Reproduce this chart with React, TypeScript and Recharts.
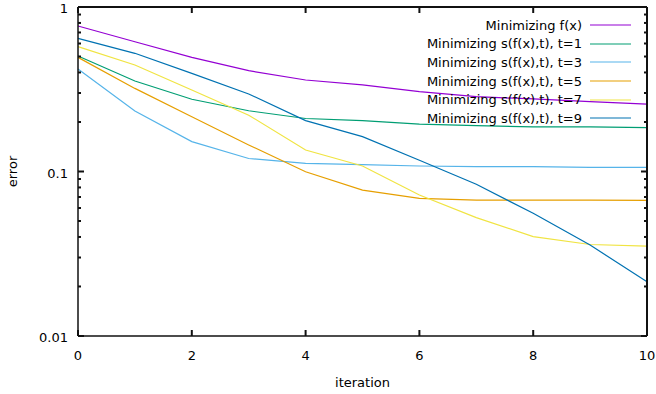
import React from 'react';
import { LineChart, Line, XAxis, YAxis, Legend } from 'recharts';

const iterations = [0, 1, 2, 3, 4, 5, 6, 7, 8, 9, 10];
const minF = [0.766, 0.615, 0.494, 0.41, 0.36, 0.336, 0.306, 0.285, 0.276, 0.266, 0.257];
const minT1 = [0.504, 0.355, 0.275, 0.234, 0.21, 0.204, 0.194, 0.19, 0.187, 0.187, 0.185];
const minT3 = [0.42, 0.233, 0.152, 0.12, 0.112, 0.11, 0.108, 0.107, 0.107, 0.106, 0.106];
const minT5 = [0.494, 0.32, 0.215, 0.145, 0.0997, 0.077, 0.0687, 0.067, 0.067, 0.067, 0.0668];
const minT7 = [0.574, 0.444, 0.313, 0.22, 0.135, 0.108, 0.072, 0.0524, 0.0402, 0.036, 0.0352];
const minT9 = [0.645, 0.523, 0.395, 0.296, 0.204, 0.163, 0.117, 0.0836, 0.0557, 0.0357, 0.0214];

const xTicks = [0, 2, 4, 6, 8, 10];
const yMajor = [0.01, 0.1, 1];
const yTicks = [0.01, 0.02, 0.03, 0.04, 0.05, 0.06, 0.07, 0.08, 0.09, 0.1, 0.2, 0.3, 0.4, 0.5, 0.6, 0.7, 0.8, 0.9, 1];
const yLabels: Record<string, string> = { '0.01': '0.01', '0.1': '0.1', '1': '1' };

const series = [
  { key: 'f', name: 'Minimizing f(x)', color: '#9400d3', values: minF },
  { key: 't1', name: 'Minimizing s(f(x),t), t=1', color: '#009e73', values: minT1 },
  { key: 't3', name: 'Minimizing s(f(x),t), t=3', color: '#56b4e9', values: minT3 },
  { key: 't5', name: 'Minimizing s(f(x),t), t=5', color: '#e69f00', values: minT5 },
  { key: 't7', name: 'Minimizing s(f(x),t), t=7', color: '#f0e442', values: minT7 },
  { key: 't9', name: 'Minimizing s(f(x),t), t=9', color: '#0072b2', values: minT9 },
];

const data = iterations.map((x, i) => {
  const row: Record<string, number> = { x };
  series.forEach((s) => { row[s.key] = s.values[i]; });
  return row;
});

const FONT = 'DejaVu Sans';
const FS = 13;
const TICK_W = 2;
const AXIS_W = 1.5;
const TC = '#111111';

const isMajor = (v: number) => yMajor.some((m) => Math.abs(m - v) < 1e-9);

const BottomTick = (props: any) => {
  const { x, y, payload } = props;
  return (
    <g>
      <line x1={x} y1={y} x2={x} y2={y - 6} stroke={TC} strokeWidth={TICK_W} />
      <text x={x} y={y + 24} textAnchor="middle" fontFamily={FONT} fontSize={FS} fill="#000">{payload.value}</text>
    </g>
  );
};

const TopTick = (props: any) => {
  const { x, y } = props;
  return <line x1={x} y1={y} x2={x} y2={y + 6} stroke={TC} strokeWidth={TICK_W} />;
};

const LeftTick = (props: any) => {
  const { x, y, payload } = props;
  const major = isMajor(payload.value);
  return (
    <g>
      <line x1={x} y1={y} x2={x + (major ? 6 : 3)} y2={y} stroke={TC} strokeWidth={TICK_W} />
      {major && (
        <text x={x - 10} y={y + 6} textAnchor="end" fontFamily={FONT} fontSize={FS} fill="#000">
          {yLabels[String(payload.value)]}
        </text>
      )}
    </g>
  );
};

const RightTick = (props: any) => {
  const { x, y, payload } = props;
  const major = isMajor(payload.value);
  return <line x1={x} y1={y} x2={x - (major ? 6 : 3)} y2={y} stroke={TC} strokeWidth={TICK_W} />;
};

const KeyContent = () => (
  <div style={{ fontFamily: FONT, fontSize: FS, color: '#000' }}>
    {series.map((s) => (
      <div key={s.key} style={{ display: 'flex', justifyContent: 'flex-end', alignItems: 'center', height: 18.6 }}>
        <span style={{ whiteSpace: 'nowrap' }}>{s.name}</span>
        <svg width={41} height={4} style={{ marginLeft: 8 }}>
          <line x1={0} y1={2} x2={41} y2={2} stroke={s.color} strokeWidth={1.2} />
        </svg>
      </div>
    ))}
  </div>
);

export default function App() {
  return (
    <div style={{ position: 'absolute', left: 0, top: 0, width: 656, height: 394, background: '#fff' }}>
      <LineChart width={656} height={394} data={data} margin={{ top: 0, right: 0, bottom: 0, left: 8 }}>
        <XAxis
          dataKey="x" type="number" domain={[0, 10]} ticks={xTicks} interval={0}
          height={58} tickSize={0} tickMargin={0} tick={<BottomTick />} stroke={TC} strokeWidth={AXIS_W}
          label={{
            content: (p: any) => {
              const vb = p.viewBox;
              return (
                <text x={vb.x + vb.width / 2} y={vb.y + 51} textAnchor="middle" fontFamily={FONT} fontSize={FS} fill="#000">iteration</text>
              );
            },
          }}
        />
        <XAxis
          xAxisId="top" orientation="top" dataKey="x" type="number" domain={[0, 10]} ticks={xTicks}
          interval={0} height={7} tickSize={0} tickMargin={0} tick={<TopTick />} stroke={TC} strokeWidth={2}
        />
        <YAxis
          scale="log" type="number" domain={[0.01, 1]} ticks={yTicks} interval={0} allowDataOverflow
          width={70} tickSize={0} tickMargin={0} tick={<LeftTick />} stroke={TC} strokeWidth={AXIS_W}
          label={{
            content: (p: any) => {
              const vb = p.viewBox;
              const cy = vb.y + vb.height / 2;
              return (
                <text x={17} y={cy} transform={`rotate(-90 17 ${cy})`} textAnchor="middle" fontFamily={FONT} fontSize={FS} fill="#000">error</text>
              );
            },
          }}
        />
        <YAxis
          yAxisId="right" orientation="right" scale="log" type="number" domain={[0.01, 1]} ticks={yTicks}
          interval={0} allowDataOverflow width={9} tickSize={0} tickMargin={0} tick={<RightTick />} stroke={TC} strokeWidth={2}
        />
        <Legend
          layout="horizontal" verticalAlign="middle" align="center"
          content={<KeyContent />}
          wrapperStyle={{ position: 'absolute', top: 16, left: 200, width: 431, height: 112 }}
        />
        {series.map((s) => (
          <Line
            key={s.key} dataKey={s.key} name={s.name} stroke={s.color} strokeWidth={1.2}
            dot={false} isAnimationActive={false} type="linear"
          />
        ))}
      </LineChart>
    </div>
  );
}
